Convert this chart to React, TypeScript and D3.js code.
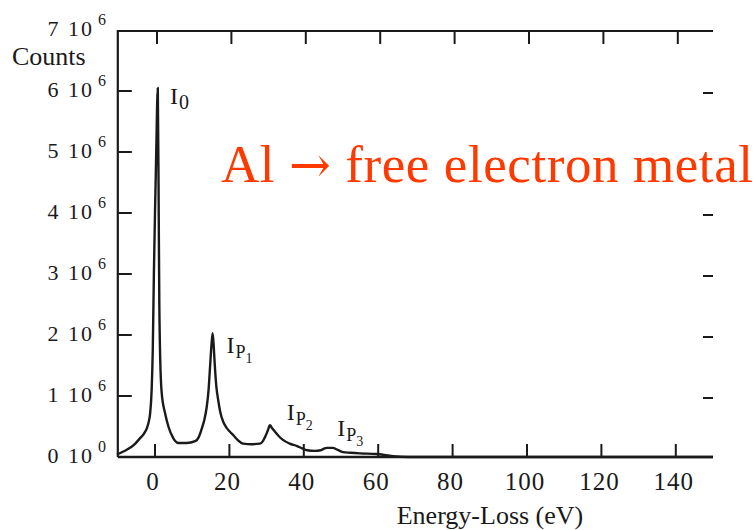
import React from "react";
import * as d3 from "d3";

// energy loss (eV) and counts (in units of 10^6)
const energy = [
  -10.2, -8.5, -6.7, -5.3, -4.0, -3.0, -2.2, -1.6, -1.3, -0.9, -0.6, -0.3, 0.0, 0.3,
  0.75, 1.0, 1.15, 1.35, 1.8, 2.7, 3.6, 4.9, 6.3, 8.5, 10.8, 11.8, 12.6, 13.3, 13.9,
  14.4, 14.8, 15.2, 15.5, 15.8, 16.1, 16.5, 17.0, 17.6, 18.4, 19.2, 20.2, 21.0, 22.2,
  23.7, 26.0, 28.2, 29.0, 29.6, 30.3, 30.9, 31.5, 32.3, 33.3, 34.4, 36.2, 38.2, 39.6,
  40.9, 43.0, 44.5, 45.2, 46.2, 47.8, 49.0, 50.5, 52.5, 55.1, 59.6, 63.2, 66.0, 70.0,
  100.0, 150.0,
];
const counts = [
  0.04, 0.09, 0.15, 0.22, 0.31, 0.38, 0.47, 0.6, 0.72, 1.1, 1.75, 3.0, 4.0, 4.9,
  6.05, 4.0, 2.6, 1.75, 1.05, 0.72, 0.5, 0.31, 0.23, 0.23, 0.26, 0.33, 0.47, 0.62, 0.82,
  1.1, 1.48, 1.85, 2.03, 1.8, 1.48, 1.15, 0.93, 0.72, 0.57, 0.48, 0.41, 0.36, 0.28,
  0.22, 0.21, 0.22, 0.26, 0.33, 0.43, 0.52, 0.47, 0.41, 0.34, 0.28, 0.22, 0.18, 0.14,
  0.11, 0.1, 0.11, 0.13, 0.15, 0.15, 0.12, 0.08, 0.07, 0.06, 0.05, 0.02, 0.005, 0,
  0, 0,
];

const xTicks = [0, 20, 40, 60, 80, 100, 120, 140];
const yTicks = [0, 1, 2, 3, 4, 5, 6, 7];
const yTickExponents = ["0", "6", "6", "6", "6", "6", "6", "6"];

// peak labels: main letter, subscript, sub-subscript, anchor (eV, 10^6 counts)
const peakNames = ["I", "I", "I", "I"];
const peakSubs = ["0", "P", "P", "P"];
const peakSubSubs = ["", "1", "2", "3"];
const peakLabelE = [4.0, 19.2, 35.4, 49.0];
const peakLabelV = [5.79, 1.7, 0.61, 0.34];

const titleParts = ["Al ", "\u2192", " free electron metal"];
const xTitle = "Energy-Loss (eV)";
const yTitle = "Counts";

const W = 755;
const H = 530;
const serif = "'Liberation Serif', 'Times New Roman', serif";
const ink = "#1a1a1a";

export default function App() {
  const x = d3.scaleLinear().domain([-10, 150]).range([117.8, 713]);
  const y = d3.scaleLinear().domain([0, 7]).range([457, 30]);

  const pts = energy.map((e, i) => [e, counts[i]] as [number, number]);
  const line = d3
    .line<[number, number]>()
    .x((d) => x(d[0]))
    .y((d) => y(d[1]))
    .curve(d3.curveMonotoneX);

  const x0 = x(-10);
  const x1 = x(150);

  return (
    <svg
      width={W}
      height={H}
      style={{ position: "absolute", left: 0, top: 0, background: "#fff" }}
      fontFamily={serif}
    >
      {/* frame: left, top, bottom (no right line, only ticks) */}
      <line x1={x0} x2={x0} y1={y(7)} y2={y(0)} stroke={ink} strokeWidth={2.2} />
      <line x1={x0} x2={x1} y1={y(7) + 1} y2={y(7) + 1} stroke={ink} strokeWidth={2.2} />
      <line x1={x0} x2={x1} y1={y(0)} y2={y(0)} stroke={ink} strokeWidth={2.6} />

      {yTicks
        .filter((t) => t > 0 && t < 7)
        .map((t) => (
          <g key={"yt" + t}>
            <line x1={x0} x2={x0 + 14} y1={y(t)} y2={y(t)} stroke={ink} strokeWidth={2} />
            <line x1={x1 - 10} x2={x1} y1={y(t) + 2} y2={y(t) + 2} stroke={ink} strokeWidth={2} />
          </g>
        ))}

      {xTicks.map((t) => (
        <g key={"xt" + t}>
          <line x1={x(t)} x2={x(t)} y1={y(0)} y2={y(0) - 13} stroke={ink} strokeWidth={2} />
          <line x1={x(t) + 2} x2={x(t) + 2} y1={y(7) + 1} y2={y(7) + 14} stroke={ink} strokeWidth={2} />
          <text
            x={x(t) - 2}
            y={490}
            textAnchor="middle"
            fontSize={25}
            letterSpacing={1}
            fill="#1a1a1a"
          >
            {t}
          </text>
        </g>
      ))}

      {yTicks.map((t, i) => (
        <text
          key={"yl" + t}
          x={106}
          y={y(t) + 6}
          textAnchor="end"
          fontSize={22}
          letterSpacing={2}
          fill="#1a1a1a"
        >
          {t + " 10"}
          <tspan dx={4} dy={-11} fontSize={16} letterSpacing={0}>
            {yTickExponents[i]}
          </tspan>
        </text>
      ))}

      <text x={12} y={65} fontSize={26} fill="#1a1a1a">
        {yTitle}
      </text>
      <text x={490} y={524} textAnchor="middle" fontSize={26} fill="#1a1a1a">
        {xTitle}
      </text>

      <path d={line(pts) ?? ""} fill="none" stroke={ink} strokeWidth={2.4} strokeLinejoin="round" />

      {peakNames.map((n, i) => (
        <text key={"pk" + i} x={x(peakLabelE[i])} y={y(peakLabelV[i])} fontSize={24} fill="#1a1a1a">
          {n}
          <tspan dx={1} dy={5} fontSize={i === 0 ? 20 : 18}>
            {peakSubs[i]}
          </tspan>
          {peakSubSubs[i] && (
            <tspan dy={5} fontSize={14}>
              {peakSubSubs[i]}
            </tspan>
          )}
        </text>
      ))}

      {/* pasted-on title box hides the frame tick behind it */}
      <rect x={215} y={138} width={540} height={56} fill="#fff" />
      <text x={221} y={182} fontSize={53} fill="#ff3a00" textLength={532} lengthAdjust="spacing">
        {titleParts[0]}
        <tspan fontFamily="'DejaVu Serif', serif" fontSize={50}>
          {titleParts[1]}
        </tspan>
        {titleParts[2]}
      </text>
    </svg>
  );
}
